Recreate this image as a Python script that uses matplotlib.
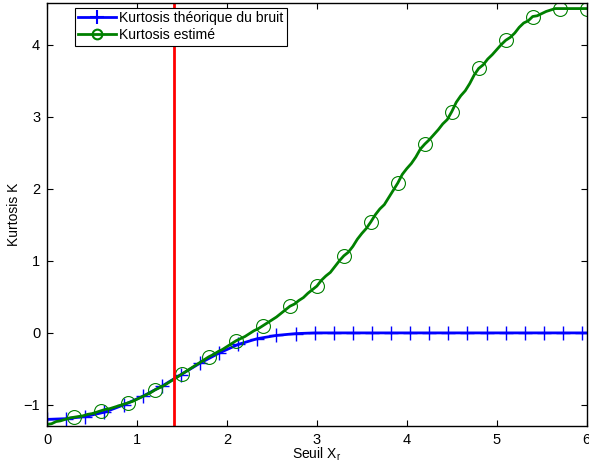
import numpy as np
import matplotlib
matplotlib.use("Agg")
import matplotlib.pyplot as plt
from matplotlib.lines import Line2D

plt.rcParams['font.family'] = ['Liberation Sans', 'DejaVu Sans']

# theoretical kurtosis of the noise (blue, + markers)
x_theo = [0.0, 0.2125, 0.425, 0.6375, 0.85, 1.0625, 1.275, 1.4875, 1.7, 1.9125,
          2.125, 2.3375, 2.55, 2.7625, 2.975, 3.1875, 3.4, 3.6125, 3.825, 4.0375,
          4.25, 4.4625, 4.675, 4.8875, 5.1, 5.3125, 5.525, 5.7375, 5.95, 6.0]
k_theo = [-1.20, -1.19, -1.16, -1.10, -1.00, -0.88, -0.74, -0.58, -0.42, -0.28,
          -0.16, -0.08, -0.035, -0.01, 0.0, 0.0, 0.0, 0.0, 0.0, 0.0,
          0.0, 0.0, 0.0, 0.0, 0.0, 0.0, 0.0, 0.0, 0.0, 0.0]

# estimated kurtosis (green, o markers every 0.3)
x_est = [round(0.05 * i, 2) for i in range(121)]
k_est = [-1.27, -1.26, -1.23, -1.22, -1.20, -1.18, -1.17, -1.16, -1.15, -1.13,
         -1.12, -1.10, -1.08, -1.06, -1.05, -1.03, -1.01, -0.99, -0.97, -0.95,
         -0.92, -0.89, -0.86, -0.83, -0.79, -0.76, -0.73, -0.69, -0.65, -0.61,
         -0.57, -0.53, -0.49, -0.45, -0.41, -0.37, -0.33, -0.30, -0.26, -0.23,
         -0.19, -0.15, -0.11, -0.08, -0.05, -0.01, 0.03, 0.06, 0.10, 0.14,
         0.18, 0.22, 0.27, 0.32, 0.37, 0.40, 0.45, 0.49, 0.55, 0.60,
         0.65, 0.73, 0.79, 0.84, 0.92, 1.00, 1.07, 1.12, 1.20, 1.30,
         1.38, 1.45, 1.54, 1.64, 1.72, 1.78, 1.88, 1.98, 2.08, 2.20,
         2.28, 2.35, 2.44, 2.55, 2.62, 2.68, 2.75, 2.82, 2.90, 2.96,
         3.07, 3.20, 3.29, 3.36, 3.46, 3.58, 3.67, 3.72, 3.80, 3.86,
         3.93, 4.00, 4.06, 4.10, 4.16, 4.24, 4.30, 4.33, 4.39, 4.40,
         4.43, 4.46, 4.48, 4.50, 4.50, 4.50, 4.50, 4.50, 4.50, 4.50, 4.50]

seuil = 1.414

fig, ax = plt.subplots(figsize=(5.89, 4.68), dpi=100)
fig.subplots_adjust(left=0.08, right=0.996, top=0.994, bottom=0.09)

ax.plot(x_theo, k_theo, color='#0000ff', lw=2, marker='+', ms=10, mew=1,
        markevery=list(range(len(x_theo) - 1)))
ax.plot(x_est, k_est, color='#008000', lw=2, marker='o', ms=10, mew=0.8,
        mfc='none', markevery=(6, 6))
ax.axvline(seuil, color='#ff0000', lw=2)

ax.set_xlim(0, 6)
ax.set_ylim(-1.29, 4.58)
ax.set_xticks(range(7))
ax.set_yticks(range(-1, 5))
ax.tick_params(direction='in', top=True, right=True, labelsize=10.5, length=4, pad=5)
for s in ax.spines.values():
    s.set_linewidth(1)

ax.set_xlabel('Seuil X$_\\mathregular{r}$', fontsize=10, labelpad=-1)
ax.set_ylabel('Kurtosis K', fontsize=10, labelpad=2)

handles = [Line2D([], [], color='#0000ff', lw=2, marker='+', ms=10, mew=1.5),
           Line2D([], [], color='#008000', lw=2, marker='o', ms=7, mew=1.5, mfc='none')]
leg = ax.legend(handles, ['Kurtosis théorique du bruit', 'Kurtosis estimé'],
                loc='upper left', bbox_to_anchor=(0.046, 0.995), fontsize=10.1,
                fancybox=False, edgecolor='black', framealpha=1,
                handlelength=2.7, handletextpad=0.2, borderpad=0.25,
                labelspacing=0.2, borderaxespad=0.2)
leg.get_frame().set_linewidth(0.8)

fig.savefig('out.png')
